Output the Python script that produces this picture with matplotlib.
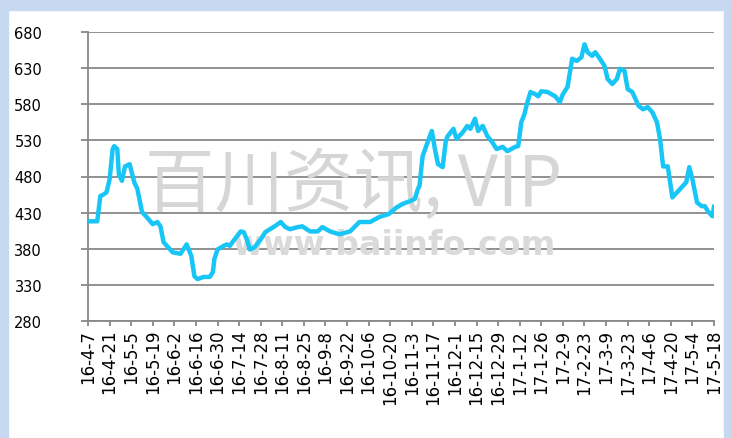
import numpy as np
import pandas as pd
import matplotlib.pyplot as plt
from matplotlib.patches import Rectangle

start_date = "2016-04-07"

# days after start_date
day_offsets = [
    0, 6, 8, 10, 12, 14, 16, 17, 19, 20, 22, 24, 27, 30, 32, 35, 38, 42, 45, 47,
    49, 52, 55, 60, 64, 67, 69, 71, 75, 79, 81, 82, 84, 88, 90, 92, 94, 99, 101, 103,
    105, 108, 112, 115, 118, 121, 125, 128, 131, 136, 139, 144, 149, 152, 157, 163, 170, 176, 183, 189,
    195, 200, 204, 209, 212, 214, 215, 217, 221, 223, 225, 227, 230, 232, 233, 237, 239, 243, 246, 248,
    251, 253, 256, 259, 262, 265, 269, 272, 277, 279, 281, 283, 285, 287, 290, 292, 294, 298, 303, 306,
    308, 311, 314, 317, 320, 322, 324, 327, 329, 332, 335, 337, 340, 343, 345, 348, 350, 353, 357, 360,
    363, 366, 369, 371, 373, 376, 379, 382, 385, 388, 390, 392, 395, 398, 400, 402, 405, 406,
]

prices = [
    418, 418, 453, 455, 458, 476, 518, 522, 518, 483, 474, 494, 497, 472, 463, 431, 424, 414, 417, 411,
    389, 382, 375, 373, 386, 370, 342, 338, 341, 341, 348, 366, 379, 384, 386, 384, 390, 404, 403, 393,
    379, 382, 393, 403, 407, 411, 417, 410, 407, 410, 411, 404, 404, 410, 404, 400, 404, 417, 417, 424,
    428, 437, 442, 446, 449, 463, 467, 508, 532, 543, 518, 497, 493, 528, 535, 546, 532, 541, 550, 546,
    560, 543, 550, 536, 528, 518, 521, 515, 521, 522, 555, 566, 583, 597, 594, 591, 598, 597, 591, 583,
    594, 604, 643, 640, 645, 663, 652, 647, 652, 643, 633, 615, 608, 615, 629, 626, 601, 597, 578, 573,
    576, 569, 555, 532, 494, 494, 451, 458, 465, 472, 493, 476, 444, 439, 439, 432, 425, 438,
]

tick_dates = pd.date_range(start_date, "2017-05-18", freq="14D")
tick_labels = [f"{d.year % 100}-{d.month}-{d.day}" for d in tick_dates]
y_ticks = [280, 330, 380, 430, 480, 530, 580, 630, 680]

dates = pd.to_datetime(start_date) + pd.to_timedelta(day_offsets, unit="D")

fig = plt.figure(figsize=(7.31, 4.39), dpi=100)
fig.patch.set_facecolor("white")

# light blue frame around the chart
frame = "#C6D9F0"
fig.patches.append(Rectangle((0, 1 - 11 / 439), 1, 11 / 439, transform=fig.transFigure, color=frame, zorder=0))
fig.patches.append(Rectangle((0, 0), 8 / 731, 1, transform=fig.transFigure, color=frame, zorder=0))
fig.patches.append(Rectangle((1 - 7 / 731, 0), 7 / 731, 1, transform=fig.transFigure, color=frame, zorder=0))

ax = fig.add_axes([88 / 731, 1 - 322 / 439, 626 / 731, 289 / 439])
ax.set_facecolor("white")

grid_c = "#888888"
for v in y_ticks:
    ax.axhline(v, color=grid_c, lw=1.3, zorder=1)

ax.text(0.425, 0.47, "百川资讯, VIP", transform=ax.transAxes, ha="center", va="center",
        fontsize=50, fontweight="light", color="#D6D6D6",
        family=["Noto Sans CJK SC", "DejaVu Sans"], zorder=2)
ax.text(0.49, 0.265, "www.baiinfo.com", transform=ax.transAxes, ha="center", va="center",
        fontsize=24, fontweight="bold", color="#DADADA", zorder=2)

ax.plot(dates, prices, color="#17C6F6", lw=3.2, solid_joinstyle="round", zorder=3)

ax.set_ylim(280, 680)
ax.set_xlim(tick_dates[0], tick_dates[-1])
ax.set_yticks(y_ticks)
ax.set_xticks(tick_dates)
ax.set_xticklabels(tick_labels, rotation=90, va="top", ha="center")

for s in ["top", "right"]:
    ax.spines[s].set_visible(False)
for s in ["left", "bottom"]:
    ax.spines[s].set_color(grid_c)
    ax.spines[s].set_linewidth(1.3)

ax.tick_params(axis="y", length=5, width=1.3, color=grid_c, pad=28, labelsize=10.5, labelcolor="black")
ax.tick_params(axis="x", length=3.6, width=1.3, color=grid_c, pad=2, labelsize=12, labelcolor="black")

fig.savefig("out.png", dpi=100)
